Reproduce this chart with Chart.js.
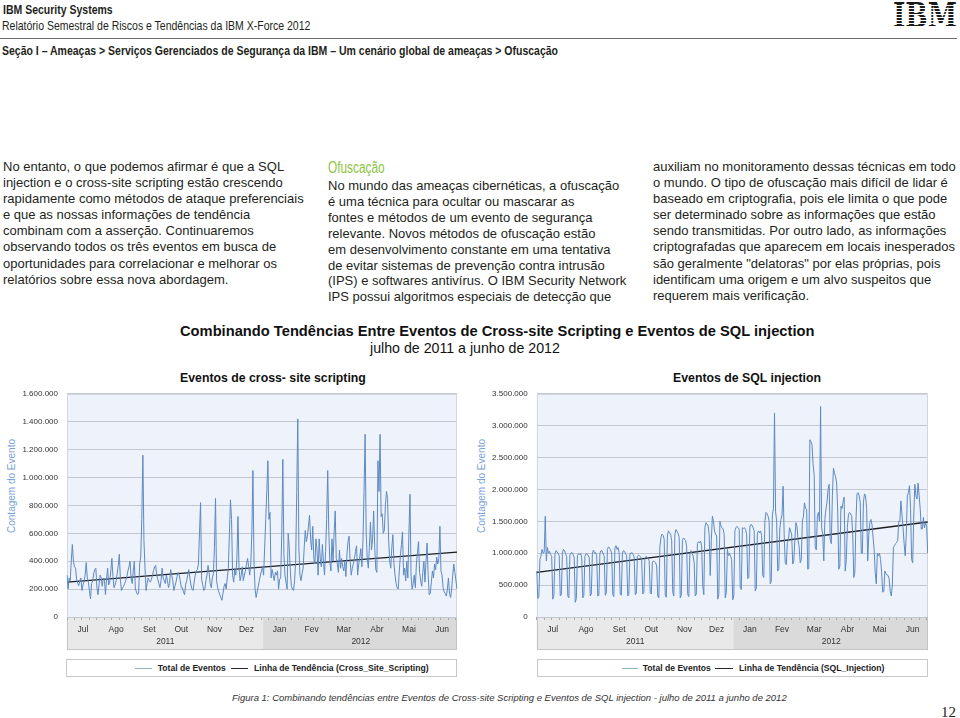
<!DOCTYPE html>
<html><head><meta charset="utf-8">
<script src="https://cdn.jsdelivr.net/npm/chart.js@4.4.1/dist/chart.umd.min.js"></script>
<style>
html,body{margin:0;padding:0}
body{width:960px;height:718px;position:relative;background:#fff;font-family:"Liberation Sans",Arial,Helvetica,sans-serif;color:#231f20;overflow:hidden}
.abs{position:absolute;white-space:nowrap}
.narrow{transform:scaleX(0.82);transform-origin:0 50%}
.col{position:absolute;font-size:13px;line-height:16.1px;white-space:nowrap;color:#231f20}
.ytitle{position:absolute;font-size:10px;line-height:12px;color:#7ba3d4;white-space:nowrap;transform:translate(-50%,-50%) rotate(-90deg)}
.ctitle{position:absolute;font-weight:bold;font-size:12.3px;line-height:14px;white-space:nowrap;color:#111}
.legbox{position:absolute;border:1px solid #c9c9c9;box-sizing:border-box;background:#fff}
.sw{position:absolute;height:1.5px}
.lt{position:absolute;font-weight:bold;font-size:8.6px;line-height:10px;white-space:nowrap;color:#222}
canvas{position:absolute}
#ibm{position:absolute;left:893px;top:-1px;font:bold 33px/33px "DejaVu Serif",serif;color:#1a1a1a;transform-origin:0 0;white-space:nowrap}
#ibmstripes{position:absolute;left:888px;top:3px;width:72px;height:25px;background:repeating-linear-gradient(to bottom,rgba(255,255,255,0) 0px,rgba(255,255,255,0) 2px,#fff 2px,#fff 3px)}
</style>
</head>
<body>
<div class="abs narrow" style="left:3px;top:3px;font-weight:bold;font-size:12.8px;line-height:14px">IBM Security Systems</div>
<div class="abs narrow" style="left:2px;top:19px;font-size:12.8px;line-height:14px">Relatório Semestral de Riscos e Tendências da IBM X-Force 2012</div>
<div id="ibm">IBM</div>
<div id="ibmstripes"></div>
<div class="abs" style="left:0;top:38px;width:957px;height:1px;background:#6b6b6b"></div>
<div class="abs narrow" style="left:2px;top:44px;font-weight:bold;font-size:12.8px;line-height:14px">Seção I – Ameaças &gt; Serviços Gerenciados de Segurança da IBM – Um cenário global de ameaças &gt; Ofuscação</div>

<div class="col" style="left:3px;top:159px">No entanto, o que podemos afirmar é que a SQL<br>injection e o cross-site scripting estão crescendo<br>rapidamente como métodos de ataque preferenciais<br>e que as nossas informações de tendência<br>combinam com a asserção. Continuaremos<br>observando todos os três eventos em busca de<br>oportunidades para correlacionar e melhorar os<br>relatórios sobre essa nova abordagem.</div>

<div class="abs" style="left:328px;top:158px;font-size:16px;line-height:19px;color:#8cc43f;transform:scaleX(0.74);transform-origin:0 50%">Ofuscação</div>
<div class="col" style="left:328px;top:178px;line-height:15.9px">No mundo das ameaças cibernéticas, a ofuscação<br>é uma técnica para ocultar ou mascarar as<br>fontes e métodos de um evento de segurança<br>relevante. Novos métodos de ofuscação estão<br>em desenvolvimento constante em uma tentativa<br>de evitar sistemas de prevenção contra intrusão<br>(IPS) e softwares antivírus. O IBM Security Network<br>IPS possui algoritmos especiais de detecção que</div>

<div class="col" style="left:653px;top:159px">auxiliam no monitoramento dessas técnicas em todo<br>o mundo. O tipo de ofuscação mais difícil de lidar é<br>baseado em criptografia, pois ele limita o que pode<br>ser determinado sobre as informações que estão<br>sendo transmitidas. Por outro lado, as informações<br>criptografadas que aparecem em locais inesperados<br>são geralmente "delatoras" por elas próprias, pois<br>identificam uma origem e um alvo suspeitos que<br>requerem mais verificação.</div>

<div class="abs" style="left:180px;top:322px;font-weight:bold;font-size:14.7px;line-height:18px;color:#111">Combinando Tendências Entre Eventos de Cross-site Scripting e Eventos de SQL injection</div>
<div class="abs" style="left:370px;top:340px;font-size:14.2px;line-height:16px;color:#111">julho de 2011 a junho de 2012</div>

<div class="ctitle" style="left:180px;top:371px">Eventos de cross- site scripting</div>
<div class="ctitle" style="left:673px;top:371px">Eventos de SQL injection</div>

<div class="ytitle" style="left:12px;top:486px">Contagem do Evento</div>
<div class="ytitle" style="left:482px;top:486px">Contagem do Evento</div>

<canvas id="c1" width="470" height="274" style="left:0;top:380px;width:470px;height:274px"></canvas>
<canvas id="c2" width="480" height="274" style="left:470px;top:380px;width:480px;height:274px"></canvas>

<div class="legbox" style="left:66px;top:659px;width:391px;height:18px"></div>
<div class="sw" style="left:135px;top:667.5px;width:17px;background:#8db3c3"></div>
<div class="lt" style="left:157.7px;top:663px">Total de Eventos</div>
<div class="sw" style="left:230.7px;top:667.5px;width:17.6px;background:#2a2a2a"></div>
<div class="lt" style="left:254px;top:663px">Linha de Tendência (Cross_Site_Scripting)</div>

<div class="legbox" style="left:536.7px;top:659px;width:391px;height:18px"></div>
<div class="sw" style="left:621.7px;top:667.5px;width:16.6px;background:#8db3c3"></div>
<div class="lt" style="left:642.7px;top:663px">Total de Eventos</div>
<div class="sw" style="left:715px;top:667.5px;width:18px;background:#2a2a2a"></div>
<div class="lt" style="left:739px;top:663px">Linha de Tendência (SQL_Injection)</div>

<div class="abs" style="left:232px;top:692px;font-style:italic;font-size:9.5px;line-height:12px;color:#333">Figura 1: Combinando tendências entre Eventos de Cross-site Scripting e Eventos de SQL injection - julho de 2011 a junho de 2012</div>
<div class="abs" style="left:941px;top:703px;font-family:'Liberation Serif',serif;font-size:15px;line-height:18px;color:#222">12</div>

<script>
// ---- data (daily values, 1 Jul 2011 - 30 Jun 2012) ----
const xssValues = [
300000,200000,280000,260000,400000,520000,400000,360000,350000,270000,
240000,225000,260000,280000,190000,230000,260000,300000,390000,280000,
250000,190000,130000,240000,260000,310000,340000,350000,210000,160000,
230000,300000,280000,220000,280000,270000,160000,270000,350000,230000,
250000,330000,420000,290000,210000,230000,260000,310000,370000,450000,
260000,190000,210000,220000,240000,260000,290000,330000,360000,400000,
280000,240000,330000,400000,200000,180000,160000,170000,380000,430000,
700000,1160000,550000,350000,190000,240000,280000,260000,250000,270000,
300000,330000,360000,370000,300000,270000,240000,210000,260000,350000,
280000,260000,240000,300000,260000,210000,240000,340000,300000,260000,
190000,220000,250000,290000,320000,300000,260000,210000,210000,180000,
160000,230000,260000,300000,340000,280000,230000,200000,190000,250000,
300000,330000,340000,380000,600000,820000,270000,230000,190000,200000,
260000,300000,370000,320000,240000,210000,280000,310000,500000,850000,
260000,210000,180000,160000,140000,120000,170000,220000,240000,200000,
280000,350000,600000,840000,700000,300000,250000,340000,300000,420000,
720000,350000,260000,300000,360000,260000,300000,330000,380000,420000,
360000,300000,380000,600000,1050000,400000,200000,140000,180000,220000,
260000,300000,330000,360000,300000,500000,700000,900000,1120000,700000,
750000,280000,340000,300000,260000,320000,300000,330000,200000,270000,
280000,600000,1130000,450000,300000,250000,200000,600000,500000,330000,
220000,200000,190000,260000,400000,900000,1420000,500000,300000,260000,
310000,350000,500000,620000,540000,580000,650000,730000,560000,480000,
650000,420000,380000,560000,480000,300000,560000,420000,360000,520000,
400000,300000,470000,700000,1050000,620000,400000,330000,560000,400000,
600000,760000,420000,380000,320000,480000,350000,420000,360000,330000,
400000,290000,450000,540000,580000,400000,300000,350000,380000,420000,
470000,510000,300000,380000,430000,490000,360000,550000,900000,1310000,
600000,420000,350000,500000,680000,480000,560000,760000,500000,340000,
320000,1120000,900000,1310000,720000,740000,600000,620000,800000,900000,
850000,560000,400000,350000,500000,590000,380000,300000,240000,210000,
200000,330000,440000,520000,610000,300000,350000,260000,400000,280000,
600000,880000,300000,200000,240000,300000,210000,380000,460000,540000,
320000,260000,220000,320000,400000,250000,400000,530000,300000,160000,
170000,250000,330000,280000,380000,340000,430000,380000,420000,650000,
330000,300000,210000,180000,170000,150000,200000,280000,170000,140000,
200000,300000,380000,320000,260000,200000
];
const sqlValues = [
720000,290000,320000,
900000,960000,1060000,1000000,1010000,1580000,880000,
1090000,1000000,1030000,980000,950000,280000,330000,
980000,1040000,1020000,1000000,960000,330000,350000,
1000000,1060000,1040000,990000,950000,330000,300000,
970000,1000000,1010000,980000,930000,230000,290000,
960000,990000,980000,1000000,940000,300000,340000,
950000,990000,990000,970000,930000,330000,360000,
1000000,1050000,1000000,1010000,960000,330000,340000,
1000000,1040000,1040000,990000,960000,340000,380000,
1060000,1100000,1080000,1050000,1000000,350000,320000,
1080000,1120000,1060000,1090000,1000000,360000,340000,
1000000,1040000,1030000,990000,960000,330000,350000,
990000,1000000,1010000,980000,940000,350000,370000,
950000,970000,960000,940000,900000,360000,380000,
920000,950000,940000,920000,880000,380000,360000,
860000,880000,870000,850000,800000,330000,300000,
1100000,1250000,1300000,1280000,1220000,350000,310000,
1270000,1350000,1320000,1300000,1200000,390000,330000,
1300000,1370000,1340000,1310000,1250000,300000,340000,
1200000,1240000,1220000,1200000,1100000,350000,320000,
1000000,1040000,1000000,960000,850000,330000,360000,
1150000,1180000,1160000,1190000,1100000,490000,350000,
1400000,1480000,1450000,1440000,1300000,650000,1200000,
1580000,1500000,1350000,1300000,1270000,280000,350000,
1500000,1430000,1400000,1380000,1300000,300000,380000,
1060000,960000,1000000,950000,900000,270000,330000,
1350000,1400000,1420000,1400000,1380000,460000,430000,
1400000,1390000,1400000,1370000,1300000,600000,620000,
1420000,1450000,1440000,1400000,1350000,410000,450000,
1300000,1350000,1320000,1350000,1280000,650000,620000,
1500000,1640000,1620000,1580000,1500000,520000,560000,
1600000,1700000,3200000,1650000,1500000,720000,760000,
1400000,1530000,1600000,2050000,1300000,850000,820000,
1170000,1200000,1400000,1350000,1300000,830000,880000,
1220000,1480000,1420000,1200000,1100000,850000,900000,
1500000,1580000,1790000,1700000,1690000,750000,760000,
2780000,2750000,2700000,2400000,2230000,1100000,1050000,
1580000,1640000,1500000,3300000,1400000,1300000,880000,
1530000,1690000,1800000,2000000,2080000,1220000,1150000,
1900000,2330000,2260000,2200000,2100000,1660000,750000,
800000,1740000,1700000,1800000,1880000,720000,900000,
1400000,1600000,1640000,1620000,1580000,1300000,620000,
700000,1500000,1930000,1950000,1900000,1800000,1000000,
1000000,1800000,1930000,1900000,1700000,880000,1300000,
1480000,1530000,1450000,1250000,1060000,700000,520000,
1000000,960000,1000000,900000,700000,390000,400000,
720000,680000,660000,650000,600000,400000,330000,
500000,1090000,1120000,1150000,1170000,1200000,1500000,
1500000,1820000,1600000,1400000,1150000,960000,1300000,
1900000,1950000,2060000,1700000,900000,850000,1600000,
2080000,1900000,1850000,2100000,1900000,1700000,1380000,
1380000,1560000,1400000,1480000,1420000,1000000
];
// trend lines: value at first day and at last day
const xssTrend = [250000, 465000];
const sqlTrend = [700000, 1490000];

const monthLabels = ['Jul','Ago','Set','Out','Nov','Dez','Jan','Fev','Mar','Abr','Mai','Jun'];
const monthLengths = [31,31,30,31,30,31,31,29,31,30,31,30];
const yearLabels = ['2011','2012'];

const xssAxis = {max:1600000, step:200000};
const sqlAxis = {max:3500000, step:500000};

// ---- build helpers ----
const days = xssValues.map((v,i)=>i);
const tickText = {};
let start = 0;
const half = monthLengths.slice(0,6).reduce((a,b)=>a+b,0);
monthLengths.forEach((len,i)=>{ tickText[start+Math.floor(len/2)] = monthLabels[i]; start += len; });
tickText[Math.floor(half/2)] = ['', yearLabels[0]];
tickText[half + Math.floor((days.length-half)/2)] = ['', yearLabels[1]];

function fmt(v){ return String(v).replace(/\B(?=(\d{3})+(?!\d))/g,'.'); }
function trendData(t, n){ const a = new Array(n).fill(null); a[0]=t[0]; a[n-1]=t[1]; return a; }

// fit IBM logo width
(function(){ const el=document.getElementById('ibm'); const w=el.getBoundingClientRect().width; el.style.transform='scaleX('+(64/w)+')'; })();

Chart.defaults.font.family = '"Liberation Sans", Arial, sans-serif';

const bgPlugin = {
  id:'bg',
  beforeDraw(chart){
    const {ctx, chartArea:{left,right,top,bottom}, scales:{x}} = chart;
    ctx.save();
    ctx.fillStyle = '#eef2fa';
    ctx.fillRect(left, top, right-left, bottom-top);
    const mid = x.getPixelForValue(half - 0.5);
    const bb = x.bottom;
    ctx.fillStyle = '#e9e9e9';
    ctx.fillRect(left, bottom, mid-left, bb-bottom);
    ctx.fillStyle = '#dadada';
    ctx.fillRect(mid, bottom, right-mid, bb-bottom);
    ctx.strokeStyle = '#c4c4c4';
    ctx.lineWidth = 1;
    ctx.strokeRect(Math.round(left)+0.5, Math.round(bottom)+0.5, Math.round(right-left)-1, Math.round(bb-bottom)-1);
    ctx.restore();
  },
  beforeDatasetsDraw(chart){
    const {ctx, chartArea:{left,right,top,bottom}} = chart;
    ctx.save();
    ctx.strokeStyle = '#d2d6de';
    ctx.lineWidth = 1;
    ctx.beginPath();
    ctx.moveTo(Math.round(left)+0.5, bottom);
    ctx.lineTo(Math.round(left)+0.5, Math.round(top)+0.5);
    ctx.lineTo(Math.round(right)-0.5, Math.round(top)+0.5);
    ctx.lineTo(Math.round(right)-0.5, bottom);
    ctx.stroke();
    ctx.restore();
  }
};

function makeChart(id, values, trend, axis, yWidth, padRight){
  return new Chart(document.getElementById(id), {
    type:'line',
    data:{
      labels: days,
      datasets:[
        {label:'Total de Eventos', data: values, borderColor:'#5d89c3', borderWidth:1, pointRadius:0, tension:0, fill:false},
        {label:'Linha de Tendência', data: trendData(trend, values.length), borderColor:'#1c1c1c', borderWidth:1.4, pointRadius:0, spanGaps:true, fill:false}
      ]
    },
    options:{
      responsive:false, animation:false, devicePixelRatio:1,
      layout:{padding:{left:0, right:padRight, top:11.7, bottom:4}},
      plugins:{legend:{display:false}, title:{display:false}, tooltip:{enabled:false}},
      scales:{
        x:{
          type:'category', offset:false,
          border:{display:false},
          grid:{display:true, drawOnChartArea:false, drawTicks:true, tickLength:3, lineWidth:1,
                color: c => (c.index % 7 === 0 ? '#a9a9a9' : 'rgba(0,0,0,0)')},
          ticks:{autoSkip:false, maxRotation:0, minRotation:0, padding:3, color:'#333',
                 font:{size:8.5, lineHeight:1.45},
                 callback:(v,i)=> (tickText[i] !== undefined ? tickText[i] : '')},
          afterFit: s => { s.height = 33; }
        },
        y:{
          min:0, max:axis.max,
          border:{display:false},
          grid:{color:'#c3c7d0', lineWidth:1, drawTicks:false},
          ticks:{stepSize:axis.step, padding:9, color:'#333', font:{size:8}, callback: v => fmt(v)},
          afterFit: s => { s.width = yWidth; }
        }
      }
    },
    plugins:[bgPlugin]
  });
}

makeChart('c1', xssValues, xssTrend, xssAxis, 67, 13);
makeChart('c2', sqlValues, sqlTrend, sqlAxis, 66.7, 22.3);
</script>
</body></html>
